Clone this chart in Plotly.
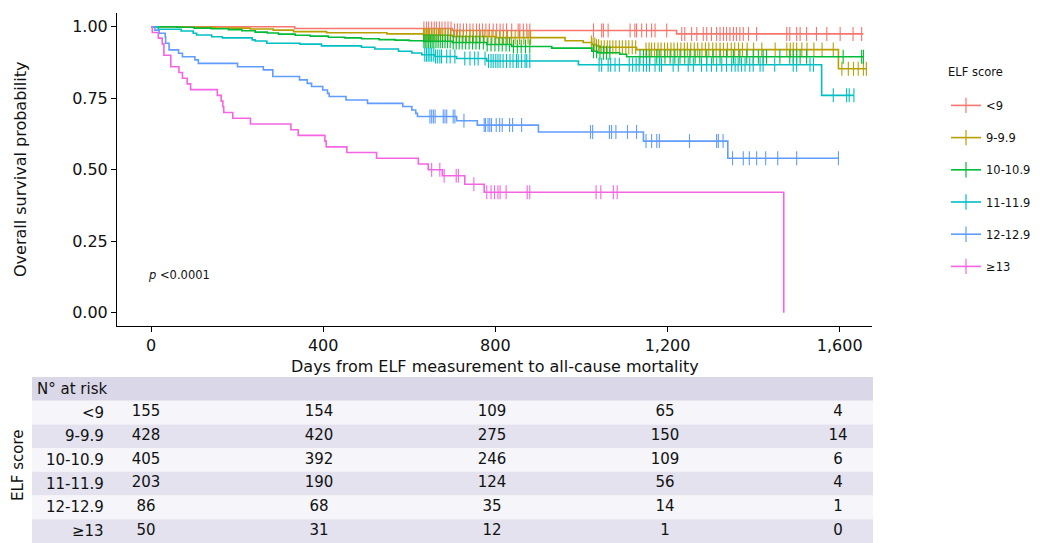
import plotly.graph_objects as go

# ---------------- data ----------------
groups = ["<9", "9-9.9", "10-10.9", "11-11.9", "12-12.9", "≥13"]
colors = ["#F8766D", "#B79F00", "#00BA38", "#00BFC4", "#619CFF", "#F564E3"]

# Kaplan-Meier event times (days) and survival after each event
lt9_time = [334, 700, 1221]
lt9_surv = [0.994, 0.987, 0.975]
lt9_end = 1655
lt9_cens = [634, 640, 645, 652, 658, 663, 670, 676, 683, 690, 697, 705, 712, 718, 726, 733, 741, 748,
            756, 763, 770, 778, 786, 795, 803, 811, 818, 826, 838, 853, 857, 865, 873, 880,
            1028, 1047, 1051, 1062, 1113, 1124, 1128, 1140, 1151, 1163, 1171, 1198,
            1233, 1240, 1256, 1268, 1283, 1291, 1302, 1314, 1322, 1330, 1337, 1345, 1353, 1360,
            1368, 1376, 1388, 1407, 1477, 1484, 1500, 1508, 1523, 1546, 1570, 1601, 1631, 1651]

g9_time = [75, 150, 230, 284, 331, 408, 548, 633, 700, 800, 962, 1004, 1024, 1035, 1043, 1128, 1597]
g9_surv = [0.998, 0.995, 0.992, 0.988, 0.983, 0.979, 0.975, 0.970, 0.966, 0.962, 0.951, 0.945,
           0.938, 0.932, 0.928, 0.920, 0.853]
g9_end = 1662
g9_cens = [633, 636, 639, 643, 647, 651, 655, 659, 664, 668, 673, 678, 684, 690, 696, 703, 710, 717,
           725, 733, 741, 749, 757, 765, 774, 783, 792, 801, 810, 819, 828, 837, 846, 856, 866, 876, 882,
           1023, 1027, 1031, 1035, 1040, 1046, 1053, 1060, 1066, 1073, 1080, 1088, 1095, 1103, 1110,
           1118, 1126, 1150, 1157, 1163, 1170, 1178, 1185, 1193, 1200, 1208, 1215, 1223, 1231, 1239,
           1246, 1254, 1262, 1270, 1280, 1288, 1296, 1305, 1313, 1322, 1330, 1339, 1348, 1356, 1365,
           1374, 1385, 1400, 1419, 1450, 1477, 1485, 1492, 1500, 1512, 1524, 1540, 1559, 1585,
           1605, 1620, 1632, 1643, 1655, 1662]

g10_time = [60, 100, 140, 180, 211, 242, 270, 296, 335, 370, 412, 450, 489, 530, 567, 600, 633,
            700, 780, 838, 931, 1024, 1037, 1089, 1105]
g10_surv = [0.998, 0.995, 0.993, 0.990, 0.986, 0.981, 0.978, 0.974, 0.970, 0.967, 0.963, 0.961,
            0.958, 0.955, 0.953, 0.951, 0.949, 0.945, 0.938, 0.931, 0.925, 0.914, 0.909, 0.904, 0.895]
g10_end = 1655
g10_cens = [634, 637, 641, 645, 649, 653, 657, 662, 667, 672, 677, 683, 689, 695, 702, 709, 716, 723,
            731, 739, 747, 755, 763, 772, 781, 790, 799, 808, 816, 825, 833, 842, 851, 860, 870, 880,
            1028, 1035, 1043, 1051, 1058, 1066, 1136, 1144, 1151, 1159, 1175, 1182, 1194, 1206, 1217,
            1229, 1240, 1252, 1264, 1275, 1291, 1306, 1322, 1337, 1353, 1368, 1384, 1399, 1411, 1422,
            1430, 1461, 1484, 1492, 1500, 1508, 1523, 1608, 1651, 1655]

g11_time = [17, 70, 98, 106, 141, 166, 235, 242, 269, 346, 396, 489, 520, 575, 606, 629, 660,
            710, 780, 993, 1558]
g11_surv = [0.991, 0.985, 0.977, 0.971, 0.965, 0.961, 0.954, 0.950, 0.942, 0.939, 0.933, 0.928,
            0.922, 0.914, 0.908, 0.902, 0.896, 0.889, 0.880, 0.867, 0.760]
g11_end = 1633
g11_cens = [636, 640, 644, 648, 652, 657, 661, 666, 671, 675, 687, 695, 706, 729, 741, 752, 760, 776,
            784, 790, 795, 801, 806, 811, 818, 826, 834, 841, 849, 853, 861, 869, 873, 880,
            1041, 1047, 1062, 1068, 1078, 1088, 1111, 1119, 1127, 1134, 1144, 1151, 1158, 1171, 1181,
            1186, 1213, 1225, 1248, 1260, 1279, 1291, 1302, 1314, 1326, 1337, 1349, 1357, 1364, 1372,
            1380, 1391, 1399, 1415, 1422, 1449, 1492, 1500, 1531, 1539, 1585, 1616, 1622, 1633]

g12_time = [9, 19, 33, 34, 42, 64, 73, 102, 110, 201, 261, 283, 345, 363, 373, 399, 410, 414, 453,
            503, 585, 606, 615, 619, 710, 758, 900, 1144, 1340]
g12_surv = [0.988, 0.977, 0.965, 0.942, 0.919, 0.907, 0.895, 0.884, 0.872, 0.860, 0.849, 0.826,
            0.814, 0.802, 0.791, 0.779, 0.767, 0.756, 0.744, 0.732, 0.721, 0.709, 0.697, 0.686,
            0.671, 0.656, 0.632, 0.600, 0.540]
g12_end = 1597
g12_cens = [648, 652, 656, 660, 679, 683, 687, 702, 706, 727, 774, 777, 783, 787, 791, 802, 810, 816,
            833, 840, 861, 1021, 1026, 1065, 1070, 1080, 1107, 1128, 1150, 1163, 1175, 1181, 1251,
            1314, 1318, 1329, 1351, 1376, 1390, 1407, 1428, 1456, 1500, 1597]

g13_time = [3, 17, 26, 30, 46, 65, 73, 84, 92, 154, 163, 167, 169, 190, 231, 325, 342, 404, 407,
            455, 524, 621, 644, 677, 729, 774, 1470]
g13_surv = [0.980, 0.960, 0.940, 0.900, 0.860, 0.840, 0.820, 0.800, 0.780, 0.760, 0.740, 0.720,
            0.700, 0.680, 0.660, 0.640, 0.620, 0.600, 0.580, 0.560, 0.540, 0.520, 0.500, 0.479,
            0.449, 0.421, 0.0]
g13_end = 1470
g13_cens = [652, 671, 681, 709, 714, 750, 780, 790, 798, 806, 811, 825, 874, 880, 1034, 1045, 1074, 1083]

# number at risk table
risk_times = [0, 400, 800, 1200, 1600]
risk_lt9 = [155, 154, 109, 65, 4]
risk_9 = [428, 420, 275, 150, 14]
risk_10 = [405, 392, 246, 109, 6]
risk_11 = [203, 190, 124, 56, 4]
risk_12 = [86, 68, 35, 14, 1]
risk_13 = [50, 31, 12, 1, 0]

x_ticks = [0, 400, 800, 1200, 1600]
y_ticks = [0, 0.25, 0.5, 0.75, 1.0]

series = [
    (lt9_time, lt9_surv, lt9_end, lt9_cens),
    (g9_time, g9_surv, g9_end, g9_cens),
    (g10_time, g10_surv, g10_end, g10_cens),
    (g11_time, g11_surv, g11_end, g11_cens),
    (g12_time, g12_surv, g12_end, g12_cens),
    (g13_time, g13_surv, g13_end, g13_cens),
]
risk = [risk_lt9, risk_9, risk_10, risk_11, risk_12, risk_13]

FONT = "DejaVu Sans"
TXT = "#111111"
OFF = 8            # page body margin
W, H = 1040 - OFF, 543 - OFF


def X(px):
    return (px - OFF) / W


def Y(py):
    return 1 - (py - OFF) / H


def surv_at(times, survs, t):
    s = 1.0
    for ti, si in zip(times, survs):
        if ti <= t:
            s = si
        else:
            break
    return s


fig = go.Figure()

for name, col, (t, s, end, cens) in zip(groups, colors, series):
    xs = [0] + t + [end]
    ys = [1.0] + s + [s[-1]]
    fig.add_trace(go.Scatter(x=xs, y=ys, mode="lines", line=dict(color=col, width=1.6, shape="hv"),
                             showlegend=False, hoverinfo="skip"))
    fig.add_trace(go.Scatter(x=cens, y=[surv_at(t, s, c) for c in cens], mode="markers",
                             marker=dict(symbol="line-ns", size=10, line=dict(color=col, width=1.1)),
                             showlegend=False, hoverinfo="skip"))

# legend entries
for name, col in zip(groups, colors):
    fig.add_trace(go.Scatter(x=[None], y=[None], mode="lines+markers", name=name, legendgroup=name,
                             line=dict(color=col, width=1.6),
                             marker=dict(symbol="line-ns", size=11, line=dict(color=col, width=1.2))))

# risk table numbers
for i, vals in enumerate(risk):
    fig.add_trace(go.Scatter(x=risk_times, y=[i + 1] * len(vals), text=[str(v) for v in vals],
                             mode="text", textfont=dict(family=FONT, size=15, color=TXT),
                             xaxis="x2", yaxis="y2", showlegend=False, hoverinfo="skip",
                             cliponaxis=False))

shapes = []
band_cols = ["#DAD8E8", "#F5F5FA", "#E3E2EE", "#F5F5FA", "#E3E2EE", "#F5F5FA", "#E3E2EE"]
for i, bc in enumerate(band_cols):
    shapes.append(dict(type="rect", xref="paper", yref="y2", x0=X(32), x1=X(873),
                       y0=i - 0.5, y1=i + 0.5, fillcolor=bc, line=dict(width=0), layer="below"))

annotations = [
    dict(text="Overall survival probability", xref="paper", yref="paper", x=X(20), y=Y(170),
         xanchor="center", yanchor="middle", textangle=-90, showarrow=False,
         font=dict(family=FONT, size=16, color=TXT)),
    dict(text="Days from ELF measurement to all-cause mortality", xref="paper", yref="paper",
         x=X(495), y=Y(366), xanchor="center", yanchor="middle", showarrow=False,
         font=dict(family=FONT, size=16, color=TXT)),
    dict(text="<i>p</i> <0.0001", xref="x", yref="y", x=-12, y=0.132, xanchor="left",
         yanchor="middle", showarrow=False, font=dict(family=FONT, size=11.5, color=TXT)),
    dict(text="N° at risk", xref="paper", yref="y2", x=X(35), y=0, xanchor="left", yanchor="middle",
         showarrow=False, font=dict(family=FONT, size=15, color=TXT)),
    dict(text="ELF score", xref="paper", yref="paper", x=X(18), y=Y(465), textangle=-90,
         xanchor="center", yanchor="middle", showarrow=False,
         font=dict(family=FONT, size=15, color=TXT)),
]
for i, g in enumerate(groups):
    annotations.append(dict(text=g, xref="paper", yref="y2", x=X(106), y=i + 1, xanchor="right",
                            yanchor="middle", showarrow=False,
                            font=dict(family=FONT, size=15, color=TXT)))

fig.update_layout(
    width=W, height=H, margin=dict(l=0, r=0, t=0, b=0),
    paper_bgcolor="white", plot_bgcolor="white",
    font=dict(family=FONT, color=TXT),
    xaxis=dict(domain=[X(117), X(872)], range=[-79, 1675], tickvals=x_ticks, tickformat=",",
               showline=True, linecolor="black", linewidth=1, ticks="outside", ticklen=5,
               tickcolor="black", showgrid=False, zeroline=False, anchor="y",
               tickfont=dict(family=FONT, size=16, color=TXT)),
    yaxis=dict(domain=[Y(326), Y(13)], range=[-0.0465, 1.048], tickvals=y_ticks,
               tickformat=".2f", showline=True, linecolor="black", linewidth=1, ticks="outside",
               ticklen=5, tickcolor="black", showgrid=False, zeroline=False, anchor="x",
               tickfont=dict(family=FONT, size=16, color=TXT)),
    xaxis2=dict(domain=[X(32), X(873)], range=[-263.6, 1681], visible=False, anchor="y2"),
    yaxis2=dict(domain=[0, Y(377)], range=[-0.5 + (543 - 377) / 23.7, -0.5], visible=False,
                anchor="x2"),
    legend=dict(x=X(946), y=Y(61), xanchor="left", yanchor="top", bgcolor="rgba(0,0,0,0)",
                title=dict(text="ELF score<br> ", font=dict(family=FONT, size=11.5, color=TXT)),
                font=dict(family=FONT, size=11.5, color=TXT), tracegroupgap=13.2),
    shapes=shapes, annotations=annotations,
)

fig.write_html("out.html")
